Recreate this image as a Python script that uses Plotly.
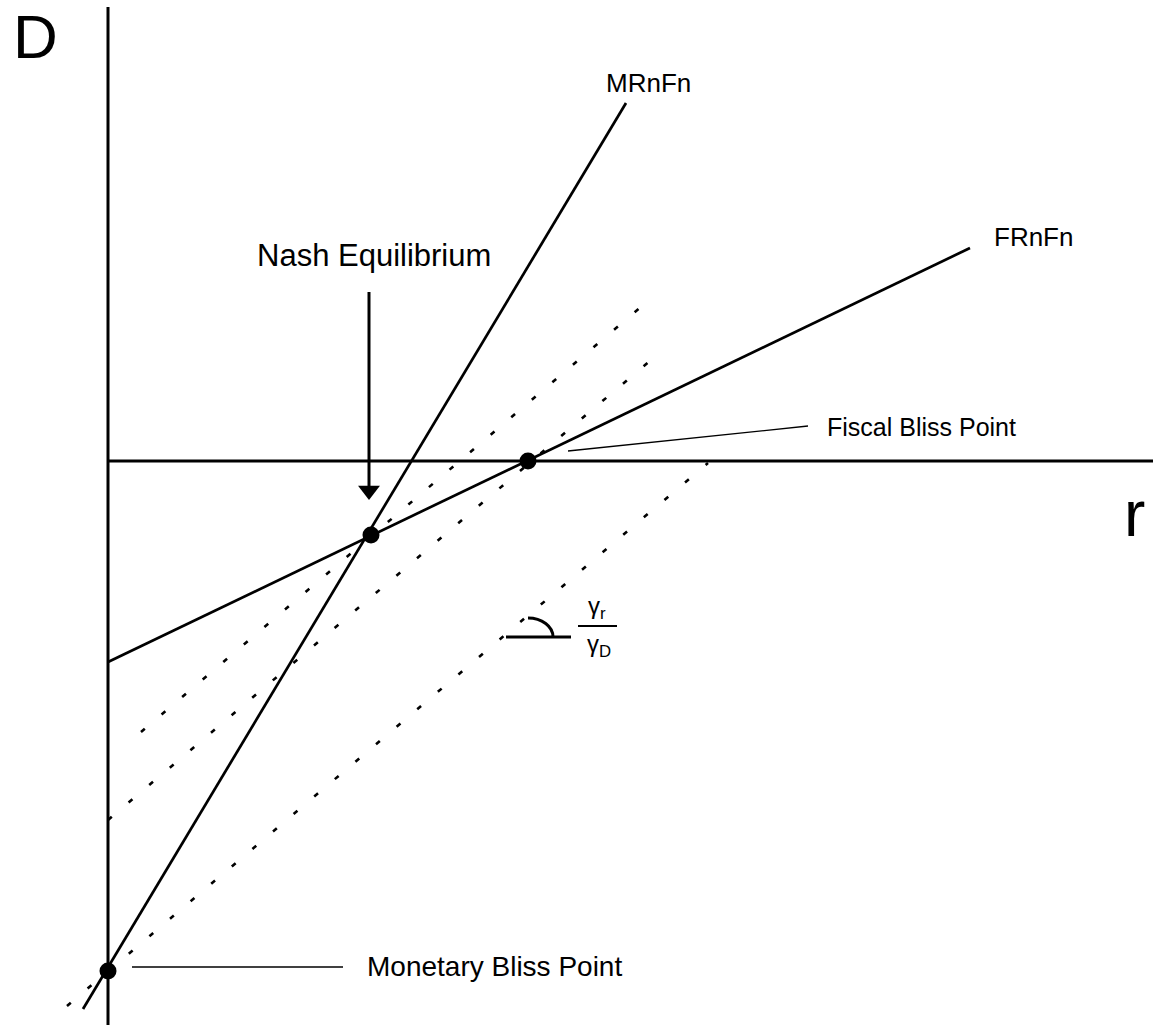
import plotly.graph_objects as go

# Coordinates: origin at the intersection of the axes (r right, D up), units ~ px
MR_R = [-25, 518]
MR_D = [-548, 358]
FR_R = [0, 862]
FR_D = [-201, 213]
ISO1_R = [33, 541]
ISO1_D = [-271, 161]
ISO2_R = [0, 550]
ISO2_D = [-359, 107]
ISO3_R = [-41, 600]
ISO3_D = [-545, -2]
PT_NAMES = ["Monetary Bliss Point", "Nash Equilibrium", "Fiscal Bliss Point"]
PT_R = [0, 263, 420]
PT_D = [-510, -74, 0]
AXV_R = [0, 0]
AXV_D = [-564, 454]
AXH_R = [0, 1045]
AXH_D = [0, 0]
ARROW_R = [261, 261]
ARROW_D = [169, -39]
LEAD_FISCAL_R = [460, 700]
LEAD_FISCAL_D = [10, 35]
LEAD_MON_R = [24, 235]
LEAD_MON_D = [-506, -506]
ANGLE_BASE_R = [398, 463]
ANGLE_BASE_D = [-176, -176]
ANGLE_ARC = {"start": (420, -157), "end": (445, -176)}
FRAC_BAR_R = [470, 509]
FRAC_BAR_D = [-165, -165]

FONT = "Arial, Liberation Sans, sans-serif"
BLACK = "#000000"

fig = go.Figure()

def line(xs, ys, width, dash=None):
    fig.add_trace(go.Scatter(x=xs, y=ys, mode="lines",
                             line=dict(color=BLACK, width=width, dash=dash),
                             hoverinfo="skip", showlegend=False))

# axes
line(AXV_R, AXV_D, 3)
line(AXH_R, AXH_D, 3)
# dotted iso lines
for xs, ys in [(ISO1_R, ISO1_D), (ISO2_R, ISO2_D), (ISO3_R, ISO3_D)]:
    line(xs, ys, 2.6, dash="5px,22px")
# reaction functions
line(MR_R, MR_D, 2.7)
line(FR_R, FR_D, 2.7)
# leader lines
line(LEAD_FISCAL_R, LEAD_FISCAL_D, 1.3)
line(LEAD_MON_R, LEAD_MON_D, 1.3)
# angle base + fraction bar
line(ANGLE_BASE_R, ANGLE_BASE_D, 3)
line(FRAC_BAR_R, FRAC_BAR_D, 2)

# angle arc (quarter ellipse via bezier)
(sx, sy), (ex, ey) = ANGLE_ARC["start"], ANGLE_ARC["end"]
k = 0.5523
arc_path = (f"M {sx},{sy} C {sx + k*(ex - sx)},{sy} {ex},{ey - k*(ey - sy)} {ex},{ey}")
fig.add_shape(type="path", path=arc_path, xref="x", yref="y",
              line=dict(color=BLACK, width=3))

# arrow shaft and head
head_size = 19
fig.add_trace(go.Scatter(x=ARROW_R, y=[ARROW_D[0], ARROW_D[1] + 10], mode="lines",
                         line=dict(color=BLACK, width=3), hoverinfo="skip", showlegend=False))
fig.add_trace(go.Scatter(x=[ARROW_R[1]], y=[ARROW_D[1] + head_size / 2],
                         mode="markers",
                         marker=dict(symbol="triangle-down", size=head_size, color=BLACK,
                                     line=dict(width=0)),
                         hoverinfo="skip", showlegend=False))

# points
fig.add_trace(go.Scatter(x=PT_R, y=PT_D, mode="markers", text=PT_NAMES,
                         marker=dict(color=BLACK, size=17, line=dict(width=0)),
                         hoverinfo="text", showlegend=False))

def label(text, x, y, size, xanchor="center"):
    fig.add_annotation(x=x, y=y, xref="x", yref="y", text=text, showarrow=False,
                       xanchor=xanchor, yanchor="middle",
                       font=dict(family=FONT, size=size, color=BLACK))

label("D", -73, 425, 62)
label("r", 1026, -53, 64)
label("MRnFn", 540, 378, 26)
label("FRnFn", 925, 224, 26)
label("Nash Equilibrium", 266, 206, 31)
label("Fiscal Bliss Point", 717, 34, 25, xanchor="left")
label("Monetary Bliss Point", 257, -505, 28, xanchor="left")
label("γ<sub>r</sub>", 489, -146, 24)
label("γ<sub>D</sub>", 491, -184, 24)

fig.update_layout(
    width=1153, height=1025,
    margin=dict(l=0, r=0, t=0, b=0),
    paper_bgcolor="white", plot_bgcolor="white",
    xaxis=dict(range=[-108, 1045], visible=False, fixedrange=True),
    yaxis=dict(range=[-564, 461], visible=False, fixedrange=True),
    showlegend=False,
)

fig.write_html("out.html", post_script="document.body.style.margin='0';",
               config={"displayModeBar": False})
